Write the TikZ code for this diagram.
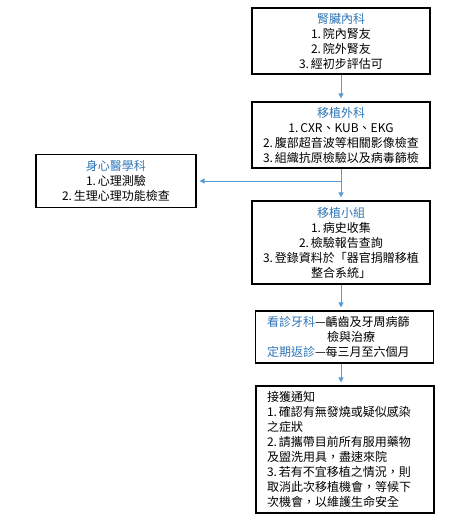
\documentclass[tikz,border=0pt]{standalone}
\usepackage{fontspec}
\setmainfont{Noto Sans CJK TC}
\usetikzlibrary{arrows.meta}
\definecolor{titleblue}{RGB}{46,117,182}
\definecolor{arrowblue}{RGB}{91,155,213}
\tikzset{
	box/.style={draw=black, line width=1.2pt, align=center, inner sep=0pt,
		font=\fontsize{12}{15}\selectfont, minimum width=178pt},
	flow/.style={draw=arrowblue, line width=0.8pt, shorten >=3pt,
		-{Triangle[length=5pt,width=5pt]}},
}
\newcommand{\hd}[1]{\textcolor{titleblue}{#1}}
\begin{document}
\begin{tikzpicture}[x=1pt,y=-1pt]
		\useasboundingbox (0,0) rectangle (470,520);
		\node[box, minimum height=66pt] (kidney) at (341,41)
			{\hd{腎臟內科}\\1.\,院內腎友\\2.\,院外腎友\\3.\,經初步評估可};
		\node[box, minimum height=66pt] (surgery) at (341,135)
			{\hd{移植外科}\\1.\,CXR、KUB、EKG\\2.\,腹部超音波等相關影像檢查\\3.\,組織抗原檢驗以及病毒篩檢};
		\node[box, minimum width=160pt, minimum height=53pt] (psych) at (116,181)
			{\hd{身心醫學科}\\1.\,心理測驗\\2.\,生理心理功能檢查};
		\node[box, minimum height=83pt] (team) at (341,242.5)
			{\hd{移植小組}\\1.\,病史收集\\2.\,檢驗報告查詢\\3.\,登錄資料於「器官捐贈移植\\整合系統」};
		\node[box, align=left, text width=155pt, inner xsep=8pt, minimum height=52pt] (dental) at (344.5,337)
			{\hd{看診牙科}—齲齒及牙周病篩\\\hspace*{5em}檢與治療\\\hd{定期返診}—每三月至六個月};
		\node[box, align=left, text width=156pt, inner xsep=6pt, minimum height=127pt] (notice) at (345,449.5)
			{接獲通知\\1.\,確認有無發燒或疑似感染\\之症狀\\2.\,請攜帶目前所有服用藥物\\及盥洗用具，盡速來院\\3.\,若有不宜移植之情況，則\\取消此次移植機會，等候下\\次機會，以維護生命安全};
		\coordinate (split) at (surgery.south |- psych.east);
		\draw[flow] (kidney) -- (surgery);
		\draw[flow] (surgery) -- (team);
		\draw[flow] (split) -- (psych.east);
		\draw[flow] (team.south) -- (team.south |- dental.north);
		\draw[flow] (team.south |- dental.south) -- (team.south |- notice.north);
	\end{tikzpicture}
\end{document}
